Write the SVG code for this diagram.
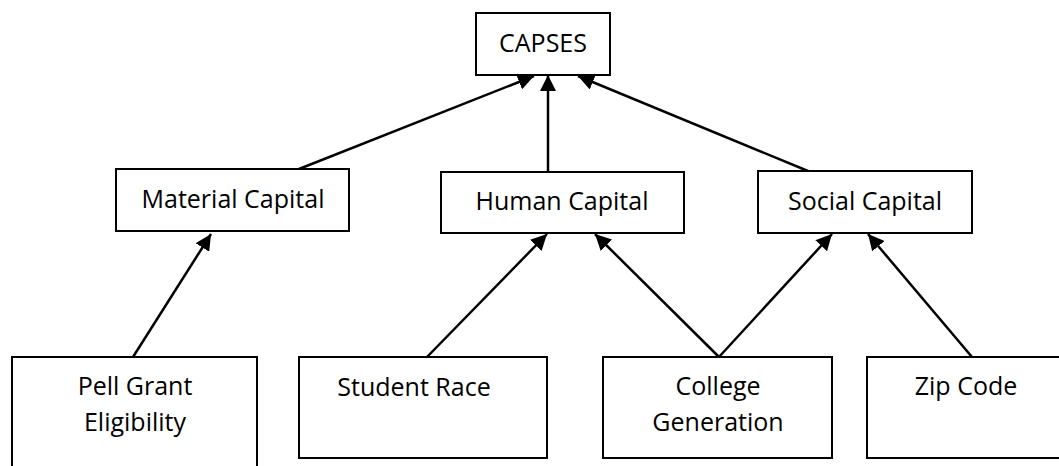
<svg xmlns="http://www.w3.org/2000/svg" width="1059" height="466" viewBox="0 0 1059 466">
<style>
.box{fill:#fff;stroke:#000;stroke-width:2}
.lbl{font-family:"Open Sans","Liberation Sans",sans-serif;font-size:25px;fill:#000;text-anchor:middle}
.edge{stroke:#000;stroke-width:2.5;fill:none;marker-end:url(#ah)}
</style>
<defs>
<marker id="ah" markerUnits="userSpaceOnUse" markerWidth="17" markerHeight="16" refX="16" refY="8" orient="auto">
<path d="M0,0 L16,8 L0,16 z" fill="#000"/>
</marker>
</defs>
<rect width="1059" height="466" fill="#fff"/>
<g id="connectors">
<line class="edge" x1="299" y1="169" x2="534" y2="76"/>
<line class="edge" x1="548" y1="172" x2="548" y2="75"/>
<line class="edge" x1="808" y1="171" x2="578" y2="76"/>
<line class="edge" x1="133" y1="357" x2="211" y2="234"/>
<line class="edge" x1="427" y1="357" x2="547" y2="234"/>
<line class="edge" x1="719" y1="357" x2="595" y2="234"/>
<line class="edge" x1="719" y1="357" x2="832" y2="234"/>
<line class="edge" x1="972" y1="357" x2="868" y2="234"/>
</g>
<g id="capses">
<rect class="box" x="476" y="13" width="134" height="62"/>
<text class="lbl" x="543" y="52">CAPSES</text>
</g>
<g id="material">
<rect class="box" x="116" y="169" width="233" height="62"/>
<text class="lbl" x="233" y="208">Material Capital</text>
</g>
<g id="human">
<rect class="box" x="441" y="172" width="243" height="61"/>
<text class="lbl" x="562" y="210">Human Capital</text>
</g>
<g id="social">
<rect class="box" x="758" y="171" width="214" height="62"/>
<text class="lbl" x="865" y="210">Social Capital</text>
</g>
<g id="pell">
<rect class="box" x="12" y="357" width="245" height="120"/>
<text class="lbl" x="135" y="395">Pell Grant</text>
<text class="lbl" x="135" y="431">Eligibility</text>
</g>
<g id="race">
<rect class="box" x="299" y="357" width="248" height="101"/>
<text class="lbl" x="414" y="396">Student Race</text>
</g>
<g id="generation">
<rect class="box" x="603" y="357" width="229" height="101"/>
<text class="lbl" x="718" y="395">College</text>
<text class="lbl" x="718" y="431">Generation</text>
</g>
<g id="zip">
<rect class="box" x="867" y="357" width="200" height="101"/>
<text class="lbl" x="966" y="395">Zip Code</text>
</g>
</svg>
